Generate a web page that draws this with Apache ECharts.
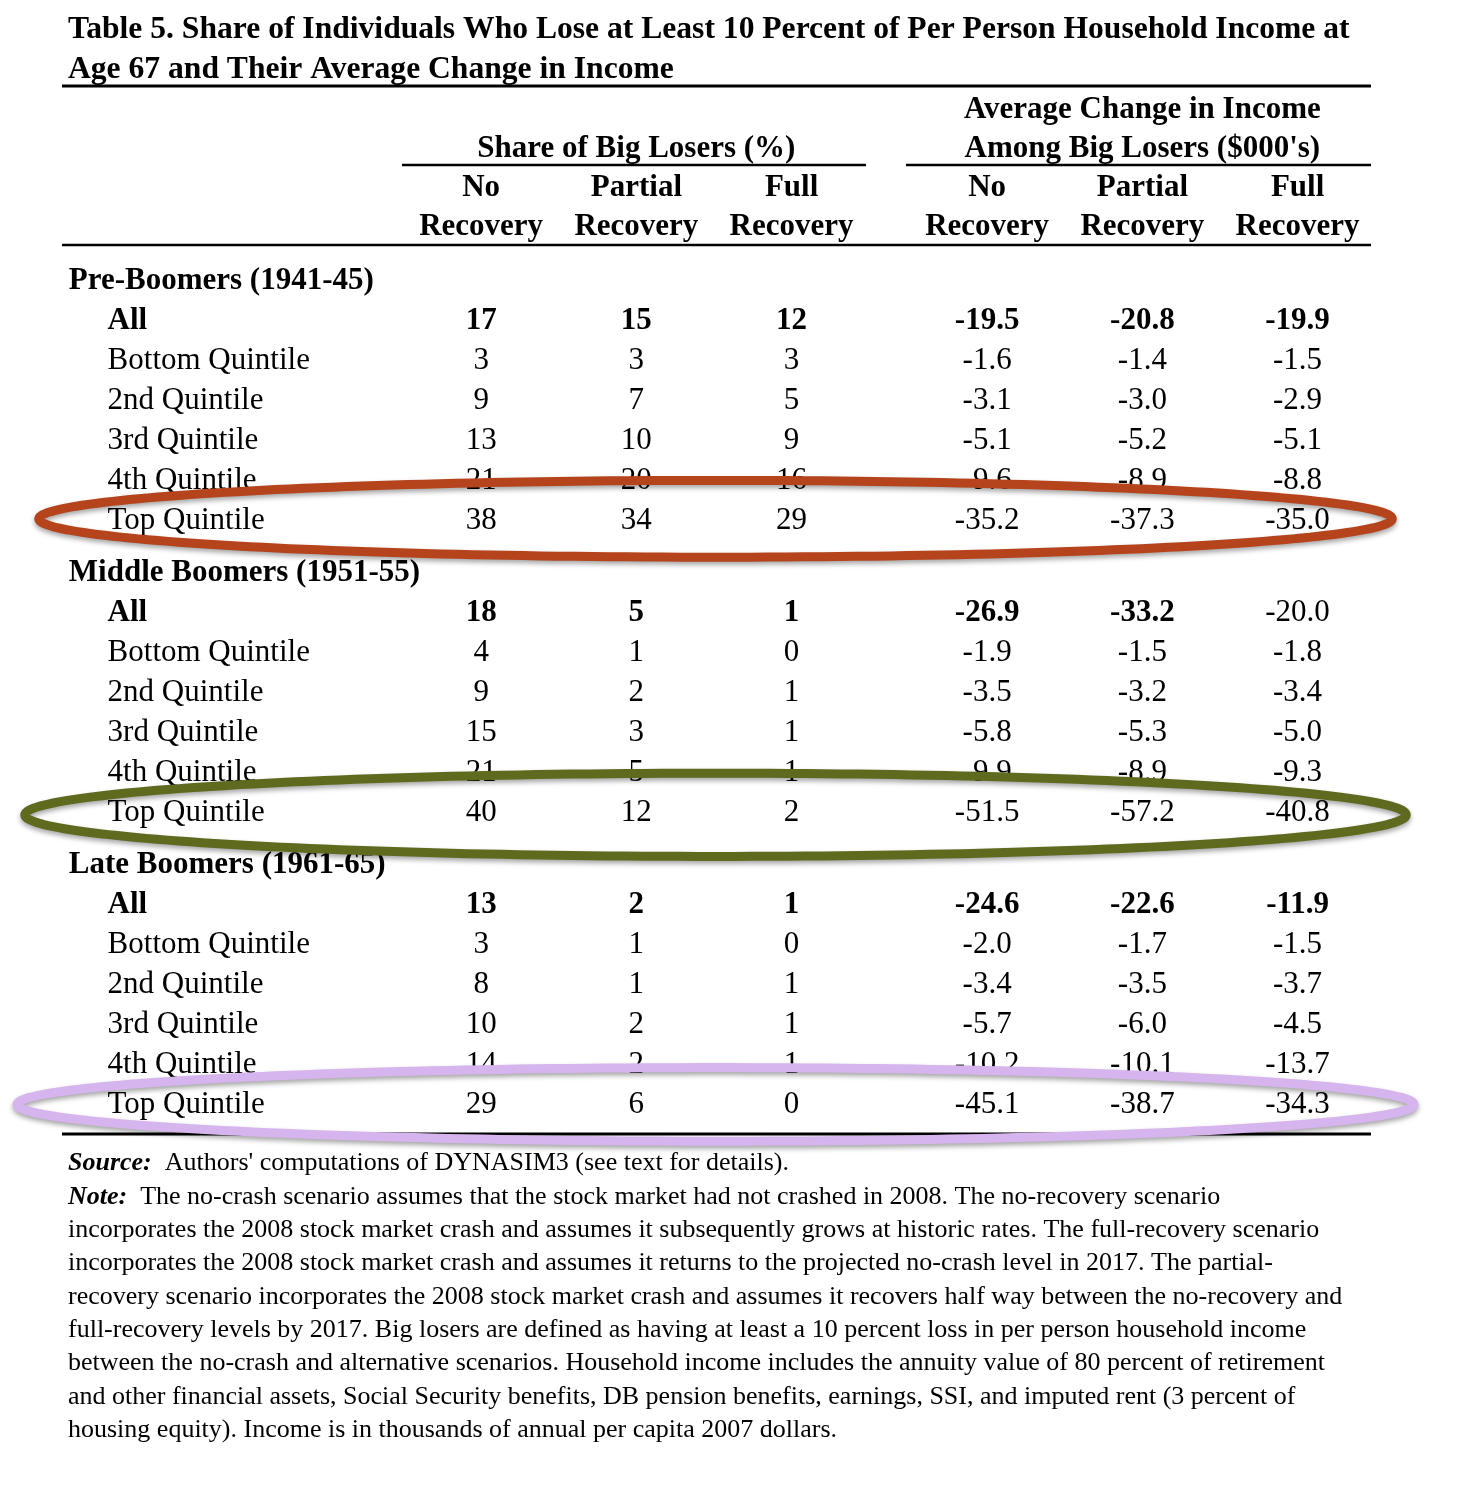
<!DOCTYPE html>
<html><head><meta charset="utf-8">
<script src="https://cdn.jsdelivr.net/npm/echarts@6/dist/echarts.min.js"></script>
<style>html,body{margin:0;padding:0;background:#fff}#c{width:1459px;height:1500px}</style>
</head><body><div id="c"></div>
<script>
// ---------- DATA ----------
const titleText = 'Table 5. Share of Individuals Who Lose at Least 10 Percent of Per Person Household Income at\nAge 67 and Their Average Change in Income';
const groupNames = ['Pre-Boomers (1941-45)', 'Middle Boomers (1951-55)', 'Late Boomers (1961-65)'];
const rowLabels = ['All', 'Bottom Quintile', '2nd Quintile', '3rd Quintile', '4th Quintile', 'Top Quintile'];
const panelTitles = ['Share of Big Losers (%)', 'Average Change in Income\nAmong Big Losers ($000\'s)'];
const scenarioLabels = ['No\nRecovery', 'Partial\nRecovery', 'Full\nRecovery'];
// values: 6 rows per cohort, cohorts in groupNames order
const shareNoRecovery      = [17, 3, 9, 13, 21, 38,   18, 4, 9, 15, 21, 40,   13, 3, 8, 10, 14, 29];
const sharePartialRecovery = [15, 3, 7, 10, 20, 34,    5, 1, 2, 3, 5, 12,      2, 1, 1, 2, 2, 6];
const shareFullRecovery    = [12, 3, 5, 9, 16, 29,     1, 0, 1, 1, 1, 2,       1, 0, 1, 1, 1, 0];
const changeNoRecovery      = [-19.5, -1.6, -3.1, -5.1, -9.6, -35.2,  -26.9, -1.9, -3.5, -5.8, -9.9, -51.5,  -24.6, -2.0, -3.4, -5.7, -10.2, -45.1];
const changePartialRecovery = [-20.8, -1.4, -3.0, -5.2, -8.9, -37.3,  -33.2, -1.5, -3.2, -5.3, -8.9, -57.2,  -22.6, -1.7, -3.5, -6.0, -10.1, -38.7];
const changeFullRecovery    = [-19.9, -1.5, -2.9, -5.1, -8.8, -35.0,  -20.0, -1.8, -3.4, -5.0, -9.3, -40.8,  -11.9, -1.5, -3.7, -4.5, -13.7, -34.3];
const highlightedRow = 'Top Quintile';
const sourceText = 'Authors\' computations of DYNASIM3 (see text for details).';
const noteLines = [
  'The no-crash scenario assumes that the stock market had not crashed in 2008. The no-recovery scenario',
  'incorporates the 2008 stock market crash and assumes it subsequently grows at historic rates. The full-recovery scenario',
  'incorporates the 2008 stock market crash and assumes it returns to the projected no-crash level in 2017. The partial-',
  'recovery scenario incorporates the 2008 stock market crash and assumes it recovers half way between the no-recovery and',
  'full-recovery levels by 2017. Big losers are defined as having at least a 10 percent loss in per person household income',
  'between the no-crash and alternative scenarios. Household income includes the annuity value of 80 percent of retirement',
  'and other financial assets, Social Security benefits, DB pension benefits, earnings, SSI, and imputed rent (3 percent of',
  'housing equity). Income is in thousands of annual per capita 2007 dollars.'
];

// ---------- LAYOUT ----------
const FONT = '"Liberation Serif","Times New Roman",serif';
const FS = 31;
const columns = [shareNoRecovery, sharePartialRecovery, shareFullRecovery, changeNoRecovery, changePartialRecovery, changeFullRecovery];
const decimals = [0, 0, 0, 1, 1, 1];
const colX = c => c + (c >= 3 ? 0.26 : 0);
const GROUP_STEP = 7.3;
const headerY = g => g * GROUP_STEP;
const rowY = (g, r) => g * GROUP_STEP + 1 + r;
const LABEL_X = -2.41, GROUP_X = -2.66;
const notBold = (g, r, c) => g === 1 && c === 5;

const baseLabel = { fontFamily: FONT, fontSize: FS, color: '#000' };
const hidden = { itemStyle: { color: 'rgba(0,0,0,0)', opacity: 1 }, symbolSize: 1, silent: true };

// row label series
const labelData = [];
groupNames.forEach((gn, g) => {
  labelData.push({ value: [GROUP_X, headerY(g)], name: gn, label: { fontWeight: 'bold' } });
  rowLabels.forEach((rl, r) => {
    labelData.push({ value: [LABEL_X, rowY(g, r)], name: rl, label: { fontWeight: r === 0 ? 'bold' : 'normal' } });
  });
});

const series = [{
  type: 'scatter', ...hidden, data: labelData,
  label: { show: true, position: 'right', distance: 0, formatter: p => p.name, ...baseLabel }
}];

columns.forEach((vals, c) => {
  const data = vals.map((v, i) => {
    const g = Math.floor(i / rowLabels.length), r = i % rowLabels.length;
    return { value: [colX(c), rowY(g, r), v],
      label: { fontWeight: (r === 0 && !notBold(g, r, c)) ? 'bold' : 'normal' } };
  });
  series.push({
    type: 'scatter', ...hidden, data,
    label: { show: true, position: 'inside', ...baseLabel,
      formatter: p => p.value[2].toFixed(decimals[c]) }
  });
});

// column headers
const headData = [];
scenarioLabels.forEach((s, i) => {
  headData.push({ value: [colX(i), -1.84], name: s });
  headData.push({ value: [colX(i + 3), -1.84], name: s });
});
headData.push({ value: [colX(1), -3.3], name: panelTitles[0] });
headData.push({ value: [colX(4), -3.8], name: panelTitles[1] });
series.push({
  type: 'scatter', ...hidden, data: headData,
  label: { show: true, position: 'inside', formatter: p => p.name, ...baseLabel, fontWeight: 'bold', lineHeight: 39 }
});

// highlight ellipses around the highlighted rows
const hiIdx = rowLabels.indexOf(highlightedRow);
const ellipseStyle = [
  { color: '#b5431b', rx: 4.36, ry: 0.96, dy: -0.06 },
  { color: '#5f6a1f', rx: 4.45, ry: 1.04, dy: 0.04 },
  { color: '#d6b4ee', rx: 4.5, ry: 0.92, dy: -0.02 }
];
series.push({
  type: 'custom', coordinateSystem: 'cartesian2d', silent: true, z: 10,
  data: groupNames.map((gn, g) => [1.51, rowY(g, hiIdx) + ellipseStyle[g].dy, g]),
  encode: { x: 0, y: 1 },
  renderItem: (params, api) => {
    const g = api.value(2);
    const st = ellipseStyle[g];
    const ctr = api.coord([api.value(0), api.value(1)]);
    const sz = api.size([st.rx, st.ry]);
    const pts = [];
    for (let k = 0; k < 240; k++) {
      const t = k / 240 * Math.PI * 2;
      pts.push([ctr[0] + sz[0] * Math.cos(t), ctr[1] + sz[1] * Math.sin(t)]);
    }
    return {
      type: 'polygon', shape: { points: pts },
      style: { fill: 'none', stroke: st.color, lineWidth: 9,
        shadowBlur: 5, shadowColor: 'rgba(0,0,0,0.35)', shadowOffsetY: 3 }
    };
  }
});

const rule = (x1, x2, y, w) => ({ type: 'line', shape: { x1, y1: y, x2, y2: y }, style: { stroke: '#000', lineWidth: w }, silent: true });

const option = {
  animation: false,
  backgroundColor: '#fff',
  title: { text: titleText, left: 68, top: 10, padding: 0,
    textStyle: { fontFamily: FONT, fontSize: 31.6, fontWeight: 'bold', lineHeight: 40, color: '#000' } },
  grid: { left: 0, right: 0, top: 0, bottom: 0 },
  xAxis: { type: 'value', min: -3.1, max: 6.3, show: false },
  yAxis: { type: 'value', inverse: true, min: -7.03, max: 30.47, show: false },
  graphic: [
    rule(62, 1371, 86, 3),
    rule(402, 866, 165, 2.5),
    rule(906, 1371, 165, 2.5),
    rule(62, 1371, 245, 2.5),
    rule(62, 1371, 1134, 3),
    { type: 'text', left: 68, top: 1147, silent: true,
      style: {
        text: '{b|Source:}  ' + sourceText + '\n{b|Note:}  ' + noteLines.join('\n'),
        fontFamily: FONT, fontSize: 26, lineHeight: 33.3, fill: '#000',
        rich: { b: { fontFamily: FONT, fontSize: 26, lineHeight: 33.3, fontStyle: 'italic', fontWeight: 'bold' } }
      } }
  ],
  series
};
const chart = echarts.init(document.getElementById('c'), null, { renderer: 'canvas' });
chart.setOption(option);
</script></body></html>
